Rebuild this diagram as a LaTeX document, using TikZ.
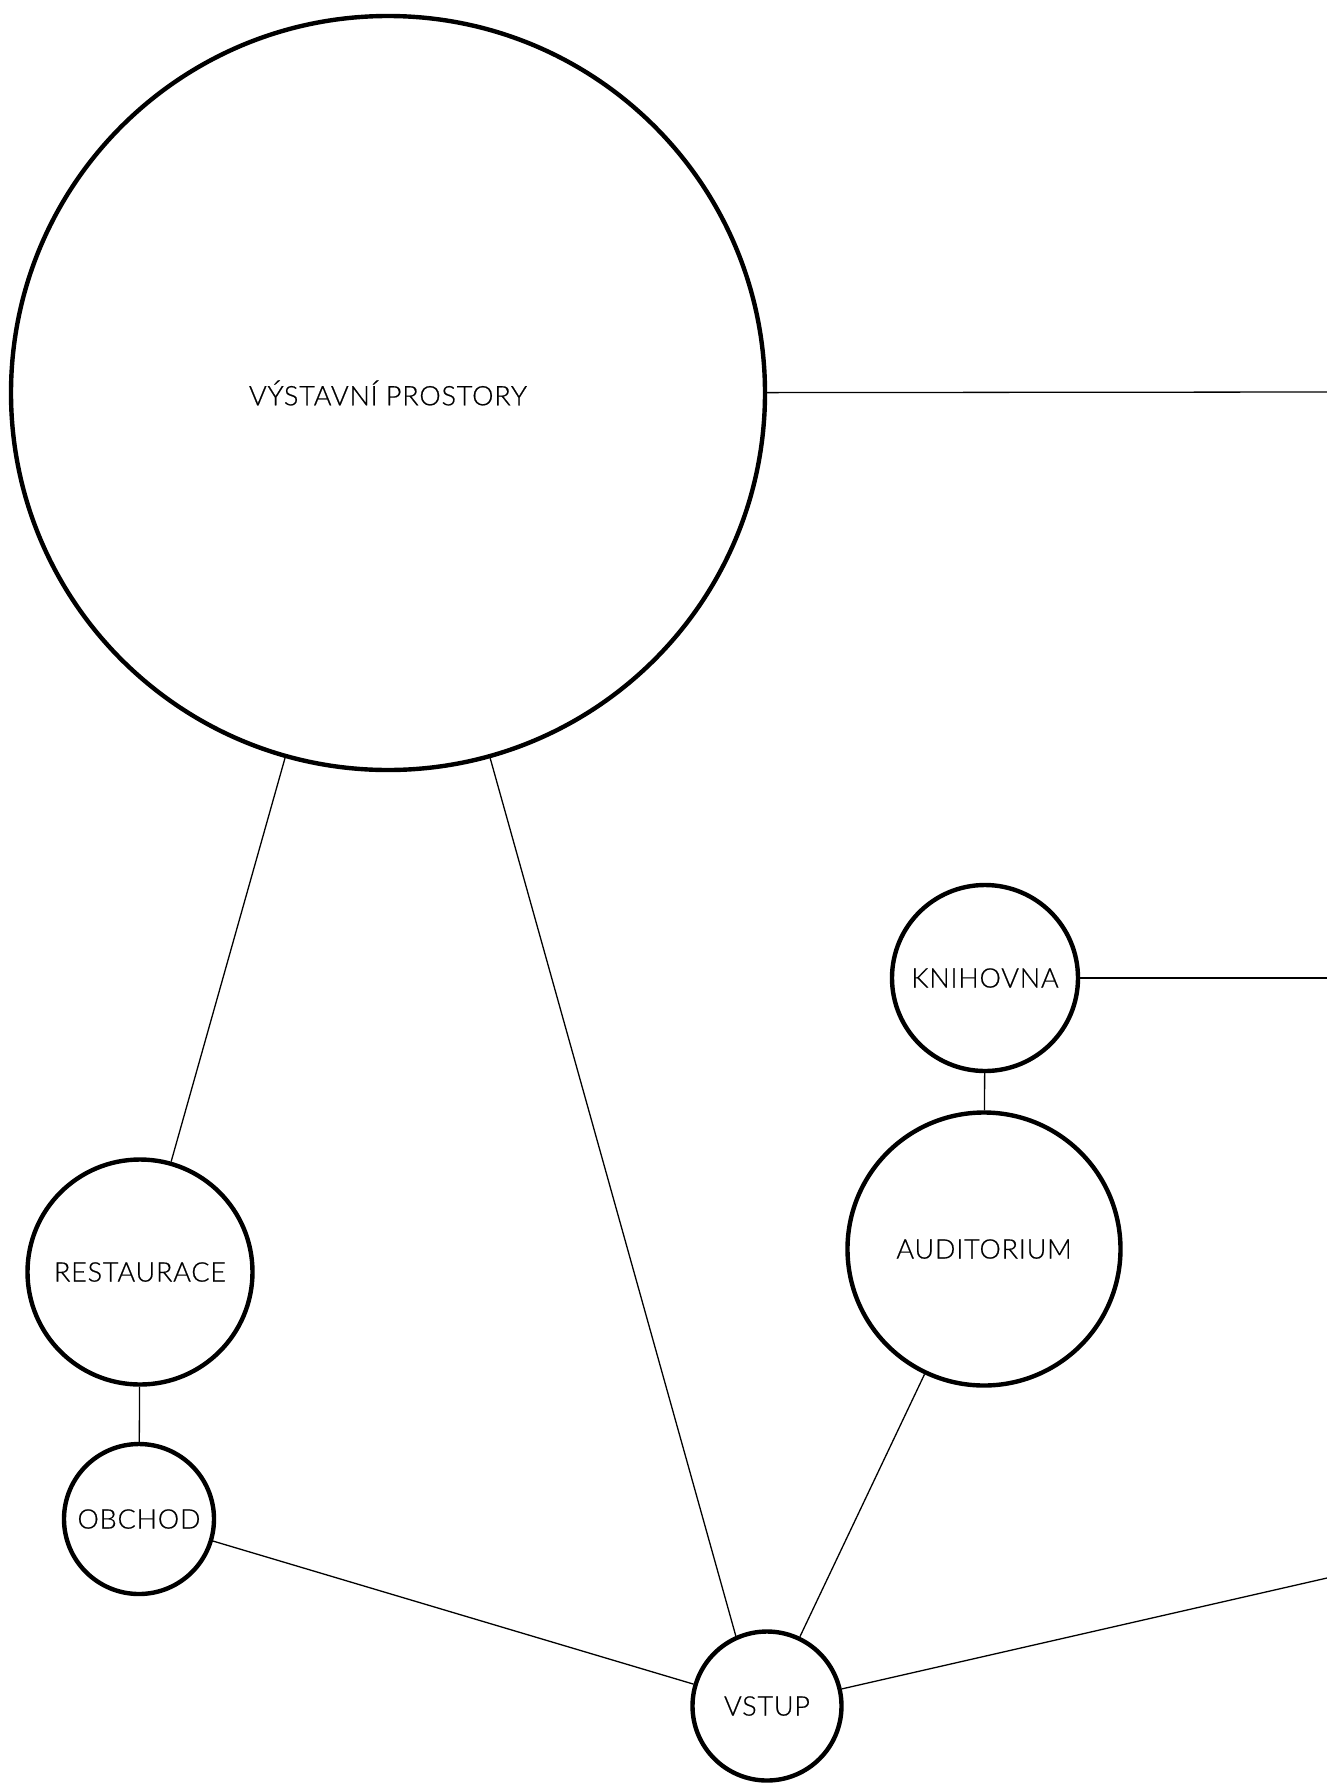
\documentclass[tikz,border=0pt]{standalone}
\usepackage{fontspec}
\setmainfont{Lato}[UprightFont=* Light,LetterSpace=3,FakeBold=0.6]
\begin{document}
\begin{tikzpicture}[x=1pt,y=-1pt,
  room/.style={circle,draw=black,line width=4.4pt,inner sep=0pt,font=\fontsize{27}{32}\selectfont,text=black},
  link/.style={draw=black,line width=1.3pt}]
\useasboundingbox (0,0) rectangle (1327,1783);
\node[room,minimum size=754pt] (vyst) at (388,393) {VÝSTAVNÍ PROSTORY};
\node[room,minimum size=186pt] (knih) at (985,978) {KNIHOVNA};
\node[room,minimum size=273pt] (aud) at (984,1249) {AUDITORIUM};
\node[room,minimum size=225pt] (rest) at (140,1272) {RESTAURACE};
\node[room,minimum size=150pt] (obch) at (139,1519) {OBCHOD};
\node[room,minimum size=149pt] (vstup) at (767,1706) {VSTUP};
\coordinate (e1) at (1327,392);
\coordinate (e2) at (1327,978);
\coordinate (e3) at (1327,1578);
\draw[link] (vyst) -- (e1);
\draw[link] (knih) -- (e2);
\draw[link] (vstup) -- (e3);
\draw[link] (vyst) -- (rest);
\draw[link] (vyst) -- (vstup.114);
\draw[link] (knih) -- (aud);
\draw[link] (aud) -- (vstup);
\draw[link] (rest) -- (obch);
\draw[link] (obch) -- (vstup);
\end{tikzpicture}
\end{document}
